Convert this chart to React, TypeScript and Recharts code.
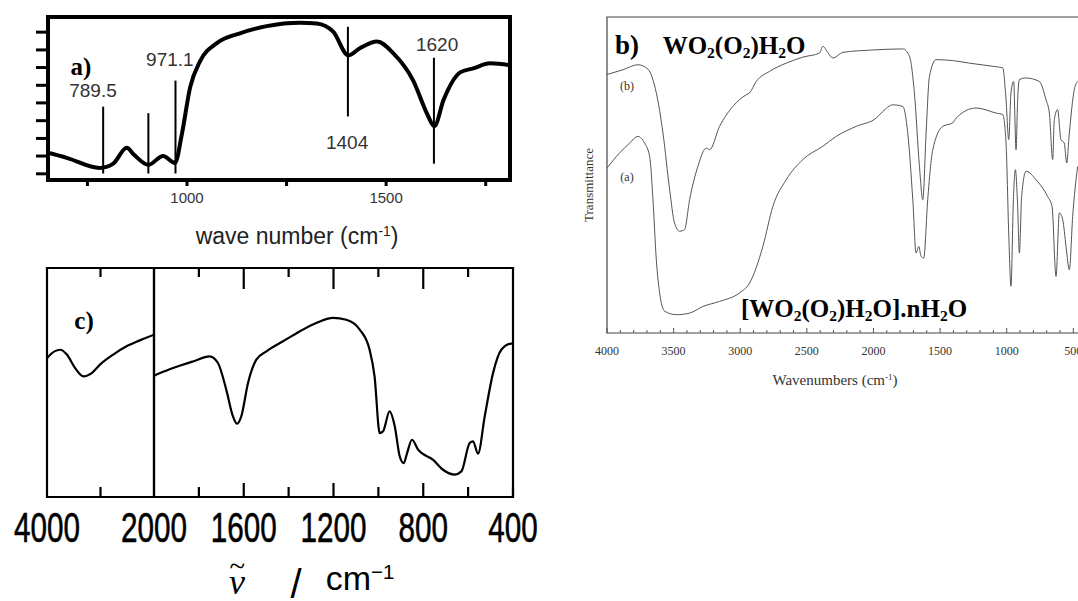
import React from "react";
import {
  LineChart,
  Line,
  XAxis,
  YAxis,
  ReferenceArea,
  ReferenceLine,
  ReferenceDot,
} from "recharts";

const SANS = "'Liberation Sans', Arial, sans-serif";
const SERIF = "'Liberation Serif', 'Times New Roman', serif";

// ---- panel a) ----
const aWavenumber = [651, 698, 781, 814, 849, 865, 903, 940, 970, 987, 1008, 1033, 1075, 1133, 1200, 1284, 1326, 1367, 1405, 1435, 1477, 1517, 1568, 1603, 1621, 1644, 1686, 1719, 1761, 1811];
const aSignal = [16.7, 13.6, 7.4, 9.9, 19.8, 16, 9.3, 14.8, 10.5, 28, 57, 73, 84, 90, 94.4, 96.5, 96, 91, 76.5, 81, 85, 78, 61, 40.5, 33, 49, 66, 68.5, 71.6, 70.4];
const aXTicks = [750, 1000, 1250, 1500, 1750];
const aXLabelled = [1000, 1500];
const aYTicks = [3.8, 14.7, 25.5, 36.4, 47.3, 58.1, 69, 79.8, 90.7];
const aPeakWave = [789.5, 903, 971.1, 1404, 1620];
const aPeakTop = [45, 41, 61, 94, 75];
const aPeakBottom = [4, 4, 4, 39, 10];
const aPeakText = ["789.5", "971.1", "1404", "1620"];
const aPeakTextWave = [764, 957, 1402, 1628];
const aPeakTextLevel = [55, 74, 23, 83];

// ---- panel b) ----
const bWaveUpper = [4000, 3880, 3768, 3693, 3630, 3580, 3530, 3493, 3455, 3418, 3380, 3318, 3255, 3230, 3155, 3055, 2955, 2930, 2880, 2780, 2655, 2530, 2405, 2380, 2343, 2305, 2230, 2030, 1780, 1730, 1693, 1655, 1630, 1605, 1580, 1530, 1405, 1280, 1105, 1030, 1005, 985, 968, 948, 930, 918, 905, 855, 755, 705, 680, 655, 643, 618, 593, 568, 550, 530, 493, 468];
const bUpper = [81.8, 83.3, 84.9, 83.5, 76, 63.3, 45.4, 34.8, 32.2, 32.7, 42.2, 52.7, 58.5, 58, 65.4, 71.7, 75.4, 76, 79.6, 82.8, 85.4, 87.3, 88.6, 90.7, 88.8, 87, 88.8, 89.5, 89.9, 87.6, 76, 52.7, 42.2, 63.3, 81.2, 86.5, 86.2, 85.4, 84.4, 83.9, 73.8, 61.2, 76, 79.6, 58, 73.8, 80.2, 80.7, 79.6, 73.8, 69.6, 54.9, 67.5, 70.7, 61.2, 60.1, 53.8, 63.3, 77, 79.6];
const bWaveLower = [4000, 3905, 3830, 3768, 3718, 3680, 3655, 3630, 3605, 3568, 3480, 3380, 3280, 3155, 3005, 2930, 2830, 2755, 2655, 2530, 2380, 2280, 2130, 1980, 1930, 1855, 1780, 1743, 1705, 1680, 1660, 1643, 1623, 1593, 1555, 1480, 1405, 1380, 1230, 1080, 1030, 1005, 985, 968, 950, 935, 918, 905, 888, 855, 780, 693, 660, 630, 605, 580, 555, 530, 505, 468];
const bLower = [52.2, 57, 60.1, 62.2, 60.1, 55.9, 42.2, 23.2, 12.7, 6.9, 5.8, 6.3, 8.4, 10, 12.7, 15.8, 27.4, 40.1, 48.5, 54.9, 59.1, 62.2, 65.4, 68, 70.1, 72.2, 71.7, 63.3, 42.2, 25.3, 27.4, 24.3, 23.7, 42.2, 58, 65.4, 66.5, 68, 71.2, 69.6, 69.1, 60.1, 31.6, 14.8, 42.2, 51.7, 40.1, 25.3, 43.2, 51.2, 48.5, 43.2, 40.1, 17.9, 38, 35.9, 27.4, 20, 36.9, 52.7];
const bTicks = [4000, 3900, 3800, 3700, 3600, 3500, 3400, 3300, 3200, 3100, 3000, 2900, 2800, 2700, 2600, 2500, 2400, 2300, 2200, 2100, 2000, 1900, 1800, 1700, 1600, 1500, 1400, 1300, 1200, 1100, 1000, 900, 800, 700, 600, 500];
const bLabelled = [4000, 3500, 3000, 2500, 2000, 1500, 1000, 500];

// ---- panel c) ----
const cWaveHigh = [4000, 3969, 3752, 3629, 3474, 3319, 3164, 3010, 2762, 2514, 2267, 2000];
const cHigh = [60.5, 61.4, 64.3, 62.2, 56.3, 52.7, 54.1, 57.8, 62.2, 65.8, 68.4, 70.9];
const cWaveLow = [2000, 1990, 1915, 1826, 1752, 1715, 1678, 1648, 1630, 1611, 1581, 1544, 1499, 1425, 1351, 1277, 1202, 1143, 1083, 1039, 1017, 994, 979, 950, 927, 905, 887, 872, 850, 823, 757, 712, 660, 630, 593, 578, 556, 526, 489, 452, 407, 400];
const cLow = [53, 53.4, 56.3, 59.2, 61.4, 58.5, 46.9, 35.2, 32, 35.2, 49.8, 60, 63.6, 68, 72.3, 76, 78.2, 77.4, 73.1, 64.3, 52.7, 27.9, 28.7, 37.4, 30.9, 17.8, 14.8, 19.2, 25, 20.7, 16.3, 11.9, 9.8, 11.2, 23.6, 24.3, 18.9, 35.2, 54.1, 64.3, 67, 67];
const cHighTicks = [4000, 3000, 2000];
const cLowTicks = [2000, 1800, 1600, 1400, 1200, 1000, 800, 600, 400];
const cLabelled = [4000, 2000, 1600, 1200, 800, 400];
const cMajor = [1600, 1200, 800];

const zip = (xs: number[], ys: number[]) => xs.map((wn, i) => ({ wn, t: ys[i] }));

const aData = zip(aWavenumber, aSignal);
const bUpperData = zip(bWaveUpper, bUpper);
const bLowerData = zip(bWaveLower, bLower);
const cHighData = zip(cWaveHigh, cHigh);
const cLowData = zip(cWaveLow, cLow);

const Nothing = () => <g />;

const ATick = (props: any) => {
  const { x, y, payload } = props;
  if (!aXLabelled.includes(payload.value)) return <g />;
  return (
    <text x={x} y={y + 15} textAnchor="middle" fontSize={15} fontFamily={SANS} fill="#333">
      {payload.value}
    </text>
  );
};

const BTick = (props: any) => {
  const { x, y, payload } = props;
  const major = bLabelled.includes(payload.value);
  return (
    <g>
      <line x1={x} x2={x} y1={y} y2={y - (major ? 5 : 3)} stroke="#555" strokeWidth={1} />
      {major && (
        <text x={x} y={y + 22} textAnchor="middle" fontSize={12} fontFamily={SERIF} fill="#333">
          {payload.value}
        </text>
      )}
    </g>
  );
};

const makeCBottomTick = (edges: number[], labels: number[]) => (props: any) => {
  const { x, y, payload } = props;
  const v = payload.value;
  const len = cMajor.includes(v) ? 14 : 10;
  const label = String(v);
  return (
    <g>
      {!edges.includes(v) && <line x1={x} x2={x} y1={y} y2={y - len} stroke="#000" strokeWidth={2.2} />}
      {labels.includes(v) && (
        <text
          x={x}
          y={y + 45}
          textAnchor="middle"
          fontSize={42}
          fontFamily={SANS}
          fill="#000"
          stroke="#000"
          strokeWidth={0.6}
          textLength={label.length * 16.5}
          lengthAdjust="spacingAndGlyphs"
        >
          {label}
        </text>
      )}
    </g>
  );
};

const makeCTopTick = (edges: number[]) => (props: any) => {
  const { x, y, payload } = props;
  const v = payload.value;
  if (edges.includes(v)) return <g />;
  const len = cMajor.includes(v) ? 21 : 9;
  return <line x1={x} x2={x} y1={y} y2={y + len} stroke="#000" strokeWidth={2.2} />;
};

const Txt = ({ x, y, size, family = SERIF, weight = "normal", color = "#000", rotate = 0, children }: any) => (
  <div
    style={{
      position: "absolute",
      left: x,
      top: y,
      transform: `translate(-50%, -50%) rotate(${rotate}deg)`,
      fontSize: size,
      fontFamily: family,
      fontWeight: weight,
      color,
      lineHeight: 1,
      whiteSpace: "pre",
    }}
  >
    {children}
  </div>
);

const Sub = ({ children }: any) => (
  <span style={{ fontSize: "0.62em", position: "relative", top: "0.25em" }}>{children}</span>
);
const Sup = ({ children }: any) => (
  <span style={{ fontSize: "0.6em", position: "relative", top: "-0.55em" }}>{children}</span>
);

const Formula = () => (
  <>
    WO<Sub>2</Sub>(O<Sub>2</Sub>)H<Sub>2</Sub>O
  </>
);

const Abs = ({ left, top, children }: any) => (
  <div style={{ position: "absolute", left, top }}>{children}</div>
);

export default function App() {
  return (
    <div
      style={{
        position: "absolute",
        left: 0,
        top: 0,
        width: 1078,
        height: 601,
        overflow: "hidden",
        background: "#fff",
      }}
    >
      {/* a) */}
      <Abs left={0} top={0}>
        <LineChart width={530} height={250} data={aData} margin={{ top: 17, right: 20, bottom: 40, left: 35 }}>
          <XAxis
            dataKey="wn"
            type="number"
            domain={[651, 1811]}
            allowDataOverflow
            ticks={aXTicks}
            interval={0}
            tick={<ATick />}
            tickSize={6}
            tickLine={{ stroke: "#000", strokeWidth: 3 }}
            axisLine={false}
            height={30}
          />
          <YAxis
            type="number"
            domain={[0, 100]}
            allowDataOverflow
            ticks={aYTicks}
            interval={0}
            width={13}
            tickSize={12}
            tick={<Nothing />}
            tickLine={{ stroke: "#000", strokeWidth: 3 }}
            axisLine={false}
          />
          <ReferenceArea x1={651} x2={1811} y1={0} y2={100} fill="none" fillOpacity={0} stroke="#000" strokeWidth={4} />
          {aPeakWave.map((w, i) => (
            <ReferenceLine
              key={w}
              segment={[
                { x: w, y: aPeakBottom[i] },
                { x: w, y: aPeakTop[i] },
              ]}
              stroke="#000"
              strokeWidth={2}
            />
          ))}
          {aPeakText.map((s, i) => (
            <ReferenceDot
              key={s}
              x={aPeakTextWave[i]}
              y={aPeakTextLevel[i]}
              r={0}
              fill="none"
              stroke="none"
              label={{ value: s, position: "center", fontSize: 19, fontFamily: SANS, fill: "#333" }}
            />
          ))}
          <Line dataKey="t" type="monotone" stroke="#000" strokeWidth={4} dot={false} isAnimationActive={false} />
        </LineChart>
      </Abs>
      <Txt x={81} y={66} size={25} weight="bold">a)</Txt>
      <Txt x={297} y={236} size={23} family={SANS} color="#222">
        wave number (cm<Sup>-1</Sup>)
      </Txt>

      {/* b) */}
      <Abs left={570} top={0}>
        <LineChart width={520} height={400} margin={{ top: 17, right: 10, bottom: 37, left: 37 }}>
          <XAxis
            dataKey="wn"
            type="number"
            domain={[450, 4000]}
            reversed
            allowDataOverflow
            ticks={bTicks}
            interval={0}
            tick={<BTick />}
            tickSize={0}
            tickMargin={0}
            tickLine={false}
            axisLine={false}
            height={30}
          />
          <YAxis hide type="number" domain={[0, 100]} allowDataOverflow />
          <ReferenceArea x1={450} x2={4000} y1={0} y2={100} fill="none" fillOpacity={0} stroke="#444" strokeWidth={1.2} />
          <Line data={bUpperData} dataKey="t" type="monotone" stroke="#555" strokeWidth={1} dot={false} isAnimationActive={false} />
          <Line data={bLowerData} dataKey="t" type="monotone" stroke="#555" strokeWidth={1} dot={false} isAnimationActive={false} />
        </LineChart>
      </Abs>
      <Txt x={627} y={45} size={27} weight="bold">b)</Txt>
      <Txt x={734} y={45} size={25} weight="bold"><Formula /></Txt>
      <Txt x={854} y={308} size={25} weight="bold">[<Formula />].nH<Sub>2</Sub>O</Txt>
      <Txt x={627} y={86} size={12} color="#333">(b)</Txt>
      <Txt x={627} y={177} size={12} color="#333">(a)</Txt>
      <Txt x={588} y={185} size={13} color="#333" rotate={-90}>Transmittance</Txt>
      <Txt x={835} y={380} size={15} color="#333">
        Wavenumbers (cm<Sup>-1</Sup>)
      </Txt>

      {/* c) left segment */}
      <Abs left={0} top={250}>
        <LineChart width={200} height={351} data={cHighData} margin={{ top: 17, right: 46, bottom: 74, left: 47 }}>
          <XAxis
            dataKey="wn"
            type="number"
            domain={[2000, 4000]}
            reversed
            allowDataOverflow
            ticks={cHighTicks}
            interval={0}
            tick={makeCBottomTick([4000, 2000], cLabelled)}
            tickSize={0}
            tickMargin={0}
            tickLine={false}
            axisLine={false}
            height={30}
          />
          <XAxis
            xAxisId="top"
            orientation="top"
            dataKey="wn"
            type="number"
            domain={[2000, 4000]}
            reversed
            allowDataOverflow
            ticks={cHighTicks}
            interval={0}
            tick={makeCTopTick([4000, 2000])}
            tickSize={0}
            tickMargin={0}
            tickLine={false}
            axisLine={false}
            height={1}
          />
          <YAxis hide type="number" domain={[0, 100]} allowDataOverflow />
          <ReferenceArea x1={2000} x2={4000} y1={0} y2={100} fill="none" fillOpacity={0} stroke="#000" strokeWidth={2.2} />
          <Line dataKey="t" type="monotone" stroke="#000" strokeWidth={2.2} dot={false} isAnimationActive={false} />
        </LineChart>
      </Abs>

      {/* c) right segment */}
      <Abs left={130} top={250}>
        <LineChart width={440} height={351} data={cLowData} margin={{ top: 17, right: 57, bottom: 74, left: 24 }}>
          <XAxis
            dataKey="wn"
            type="number"
            domain={[400, 2000]}
            reversed
            allowDataOverflow
            ticks={cLowTicks}
            interval={0}
            tick={makeCBottomTick([2000], cLabelled.filter((v) => v !== 2000))}
            tickSize={0}
            tickMargin={0}
            tickLine={false}
            axisLine={false}
            height={30}
          />
          <XAxis
            xAxisId="top"
            orientation="top"
            dataKey="wn"
            type="number"
            domain={[400, 2000]}
            reversed
            allowDataOverflow
            ticks={cLowTicks}
            interval={0}
            tick={makeCTopTick([2000, 400])}
            tickSize={0}
            tickMargin={0}
            tickLine={false}
            axisLine={false}
            height={1}
          />
          <YAxis hide type="number" domain={[0, 100]} allowDataOverflow />
          <ReferenceArea x1={400} x2={2000} y1={0} y2={100} fill="none" fillOpacity={0} stroke="#000" strokeWidth={2.2} />
          <Line dataKey="t" type="monotone" stroke="#000" strokeWidth={2.2} dot={false} isAnimationActive={false} />
        </LineChart>
      </Abs>
      <Txt x={84} y={320} size={25} weight="bold">c)</Txt>
      <Txt x={237} y={582} size={36} family={SERIF}>
        <span style={{ position: "relative", display: "inline-block", fontStyle: "italic" }}>
          ν
          <span style={{ position: "absolute", left: "0.02em", top: "-0.42em", fontStyle: "normal", fontSize: "0.8em" }}>~</span>
        </span>
      </Txt>
      <Txt x={296} y={584} size={40} family={SANS}>/</Txt>
      <Txt x={360} y={578} size={34} family={SANS}>
        cm<Sup>−1</Sup>
      </Txt>
    </div>
  );
}
